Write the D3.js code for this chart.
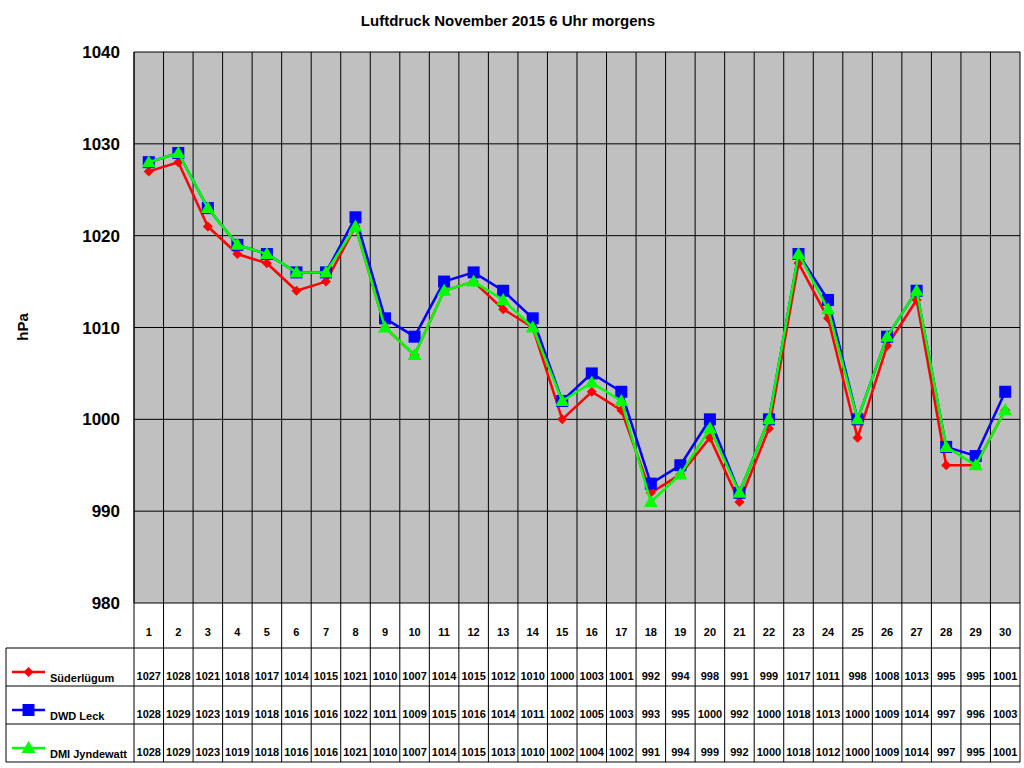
<!DOCTYPE html>
<html><head><meta charset="utf-8">
<script src="https://cdn.jsdelivr.net/npm/d3@7/dist/d3.min.js"></script>
<style>body{margin:0;background:#fff}text{font-family:"Liberation Sans",Arial,sans-serif}</style>
</head><body><svg id="c" width="1024" height="768"></svg>
<script>
const days = d3.range(1,31);
const sued = [1027,1028,1021,1018,1017,1014,1015,1021,1010,1007,1014,1015,1012,1010,1000,1003,1001,992,994,998,991,999,1017,1011,998,1008,1013,995,995,1001];
const leck = [1028,1029,1023,1019,1018,1016,1016,1022,1011,1009,1015,1016,1014,1011,1002,1005,1003,993,995,1000,992,1000,1018,1013,1000,1009,1014,997,996,1003];
const dmi  = [1028,1029,1023,1019,1018,1016,1016,1021,1010,1007,1014,1015,1013,1010,1002,1004,1002,991,994,999,992,1000,1018,1012,1000,1009,1014,997,995,1001];
const yTicks = [980,990,1000,1010,1020,1030,1040];
const series = [
 {name:"Süderlügum", values:sued, color:"#ff0000", marker:"diamond"},
 {name:"DWD Leck", values:leck, color:"#0000ff", marker:"square"},
 {name:"DMI Jyndewatt", values:dmi, color:"#00ff00", marker:"triangle"}
];
const svg = d3.select("#c");
const L=134,R=1020,T=52,B=603;
const x = d3.scaleBand().domain(days).range([L,R]);
const y = d3.scaleLinear().domain([980,1040]).range([B,T]);
svg.append("text").attr("x",508).attr("y",26).attr("text-anchor","middle").attr("font-size",15).attr("font-weight","bold").text("Luftdruck November 2015 6 Uhr morgens");
svg.append("rect").attr("x",L).attr("y",T).attr("width",R-L).attr("height",B-T).attr("fill","#c0c0c0");
svg.selectAll(".hg").data(yTicks).join("line").attr("x1",L).attr("x2",R).attr("y1",d=>y(d)).attr("y2",d=>y(d)).attr("stroke","#000");
const rowTop=[648,686,724], tableBottom=762;
// vertical grid lines through table
const edges = days.map(d=>x(d)).concat([R]);
svg.selectAll(".vg").data(edges).join("line").attr("x1",d=>d).attr("x2",d=>d).attr("y1",T).attr("y2",tableBottom).attr("stroke","#000");
svg.append("line").attr("x1",L).attr("x2",L).attr("y1",T).attr("y2",B).attr("stroke","#000");
// table horizontal lines
rowTop.concat([tableBottom]).forEach(yy=>svg.append("line").attr("x1",6).attr("x2",R).attr("y1",yy).attr("y2",yy).attr("stroke","#000"));
svg.append("line").attr("x1",6).attr("x2",6).attr("y1",648).attr("y2",tableBottom).attr("stroke","#000");
// y labels
svg.selectAll(".yl").data(yTicks).join("text").attr("x",L-14).attr("y",d=>y(d)+6).attr("text-anchor","end").attr("font-size",17).attr("font-weight","bold").text(d=>d);
svg.append("text").attr("transform","translate(28,327) rotate(-90)").attr("text-anchor","middle").attr("font-size",15).attr("font-weight","bold").text("hPa");
// day labels
svg.selectAll(".dl").data(days).join("text").attr("x",d=>x(d)+x.bandwidth()/2).attr("y",636).attr("text-anchor","middle").attr("font-size",11).attr("font-weight","bold").text(d=>d);
const line = d3.line().x((d,i)=>x(days[i])+x.bandwidth()/2).y(d=>y(d));
function marker(g,type,color,cx,cy,s){
  if(type==="diamond") g.append("path").attr("d",`M${cx},${cy-5}L${cx+5},${cy}L${cx},${cy+5}L${cx-5},${cy}Z`).attr("fill",color);
  else if(type==="square") g.append("rect").attr("x",cx-6).attr("y",cy-6).attr("width",12).attr("height",12).attr("fill",color);
  else g.append("path").attr("d",`M${cx},${cy-7}L${cx+7},${cy+5}L${cx-7},${cy+5}Z`).attr("fill",color);
}
series.forEach((s,si)=>{
  const g=svg.append("g");
  g.append("path").datum(s.values).attr("d",line).attr("fill","none").attr("stroke",s.color).attr("stroke-width",2.5);
  s.values.forEach((v,i)=>marker(g,s.marker,s.color,x(days[i])+x.bandwidth()/2,y(v)));
  // table row
  const ty=rowTop[si]+34;
  g.append("line").attr("x1",12).attr("x2",45).attr("y1",rowTop[si]+24).attr("y2",rowTop[si]+24).attr("stroke",s.color).attr("stroke-width",2.5);
  marker(g,s.marker,s.color,28.5,rowTop[si]+24);
  g.append("text").attr("x",50).attr("y",ty).attr("font-size",11).attr("font-weight","bold").text(s.name);
  g.selectAll(".tv").data(s.values).join("text").attr("x",(d,i)=>x(days[i])+x.bandwidth()/2).attr("y",ty-2).attr("text-anchor","middle").attr("font-size",11).attr("font-weight","bold").text(d=>d);
});
</script></body></html>
